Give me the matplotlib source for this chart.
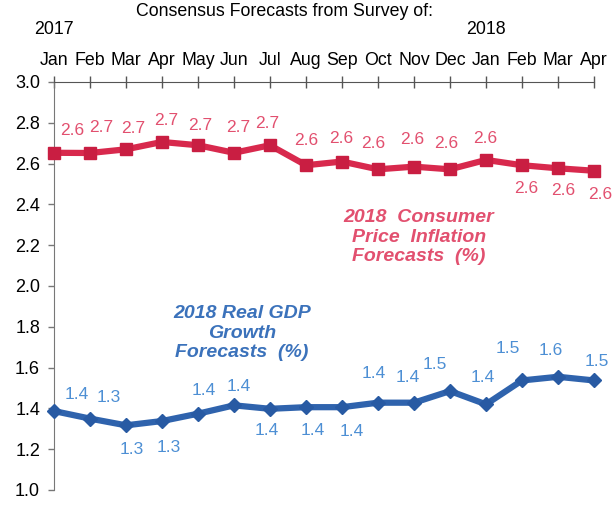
import numpy as np
import matplotlib
matplotlib.use('Agg')
from matplotlib import pyplot as plt

plt.rcParams['font.family'] = ['Liberation Sans', 'DejaVu Sans']

months = ['Jan', 'Feb', 'Mar', 'Apr', 'May', 'Jun', 'Jul', 'Aug', 'Sep', 'Oct',
          'Nov', 'Dec', 'Jan', 'Feb', 'Mar', 'Apr']

cpi = [2.653, 2.652, 2.67, 2.706, 2.69, 2.653, 2.69, 2.592, 2.61, 2.572,
       2.585, 2.572, 2.618, 2.592, 2.577, 2.565]
cpi_labels = ['2.6', '2.7', '2.7', '2.7', '2.7', '2.7', '2.7', '2.6', '2.6', '2.6',
              '2.6', '2.6', '2.6', '2.6', '2.6', '2.6']

gdp = [1.387, 1.35, 1.317, 1.338, 1.374, 1.415, 1.398, 1.406, 1.406, 1.428,
       1.428, 1.485, 1.42, 1.537, 1.555, 1.537]
gdp_labels = ['1.4', '1.3', '1.3', '1.3', '1.4', '1.4', '1.4', '1.4', '1.4', '1.4',
              '1.4', '1.5', '1.4', '1.5', '1.6', '1.5']

# label nudges in pixels (dx, dy with y pointing down, like the picture)
cpi_off = [(18, -22), (11, -25), (7, -21), (4, -21), (2, -20), (4, -25), (-3, -22),
           (0, -25), (-1, -23), (-5, -26), (-2, -27), (-4, -26), (-1, -21),
           (4, 23), (5, 22), (6, 24)]
gdp_off = [(23, -17), (19, -21), (6, 24), (7, 26), (6, -23), (5, -19), (-3, 22),
           (7, 23), (10, 24), (-4, -29), (-6, -25), (-15, -27), (-3, -27),
           (-14, -32), (-7, -26), (3, -19)]

red = '#d8294d'
red_txt = '#e2506f'
blue = '#2f63ad'
blue_txt = '#4d8fd4'

fig = plt.figure(figsize=(6.13, 5.08), dpi=100)
ax = fig.add_axes([54/613, 1 - 490/508, 540/613, 408/508])

x = np.arange(len(months))
ax.plot(x, cpi, color=red, lw=4.5, marker='s', ms=8, mfc='#c91e42', mec='#c91e42',
        solid_joinstyle='round', clip_on=False, zorder=3)
ax.plot(x, gdp, color=blue, lw=4.5, marker='D', ms=7, mfc='#285aa3', mec='#285aa3',
        solid_joinstyle='round', clip_on=False, zorder=3)

for xi, v, t, (dx, dy) in zip(x, cpi, cpi_labels, cpi_off):
    ax.annotate(t, (xi, v), xytext=(dx, -dy), textcoords='offset pixels',
                ha='center', va='center', color=red_txt, fontsize=12.5,
                annotation_clip=False)
for xi, v, t, (dx, dy) in zip(x, gdp, gdp_labels, gdp_off):
    ax.annotate(t, (xi, v), xytext=(dx, -dy), textcoords='offset pixels',
                ha='center', va='center', color=blue_txt, fontsize=12.5,
                annotation_clip=False)

ax.set_xlim(0, 15)
ax.set_ylim(1.0, 3.0)
ax.set_yticks(np.arange(1.0, 3.01, 0.2))
ax.set_yticklabels(['%.1f' % v for v in np.arange(1.0, 3.01, 0.2)], fontsize=13)
ax.set_xticks(x)
ax.set_xticklabels(months, fontsize=12.8)
ax.xaxis.tick_top()
ax.tick_params(axis='x', direction='inout', length=9, width=1, color='#555555', pad=5)
ax.tick_params(axis='y', direction='out', length=4, width=1, color='#777777', pad=6)

for s in ['right', 'bottom']:
    ax.spines[s].set_visible(False)
ax.spines['top'].set_color('#555555')
ax.spines['left'].set_color('#777777')

fig.text(285/613, 1 - 12/508, 'Consensus Forecasts from Survey of:', ha='center',
         va='center', fontsize=12.8)
fig.text(54/613, 1 - 30/508, '2017', ha='center', va='center', fontsize=12.8)
fig.text(486/613, 1 - 30/508, '2018', ha='center', va='center', fontsize=12.8)

fig.text(419/613, 1 - 237/508, '2018  Consumer\nPrice  Inflation\nForecasts  (%)',
         ha='center', va='center', fontsize=14, color=red_txt, fontweight='bold',
         fontstyle='italic', linespacing=1.2)
fig.text(242/613, 1 - 333/508, '2018 Real GDP\nGrowth\nForecasts  (%)',
         ha='center', va='center', fontsize=14, color='#3b72bb', fontweight='bold',
         fontstyle='italic', linespacing=1.2)

fig.savefig('out.png', dpi=100)
